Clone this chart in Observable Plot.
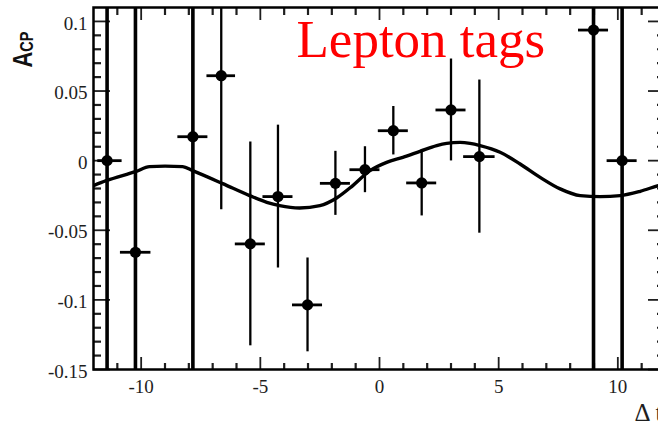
<!DOCTYPE html>
<html>
<head>
<meta charset="utf-8">
<script src="https://cdn.jsdelivr.net/npm/d3@7"></script>
<script src="https://cdn.jsdelivr.net/npm/@observablehq/plot@0.6"></script>
<style>
  html, body { margin: 0; padding: 0; background: #fff; overflow: hidden; }
  #chart { width: 680px; }
</style>
</head>
<body>
<div id="chart"></div>
<script>
// Time-dependent CP asymmetry for lepton-tagged events, binned in Δt
const dtValues   = [-11.43, -10.24, -7.83, -6.64, -5.42, -4.26, -3.02, -1.85, -0.61, 0.58, 1.77, 3.00, 4.19, 8.98, 10.18];
const acpValues  = [0.000, -0.0658, 0.0172, 0.0610, -0.0598, -0.0258, -0.1036, -0.0163, -0.0065, 0.0215, -0.0160, 0.0364, 0.0029, 0.0938, 0.000];
const acpErrors  = [0.50, 0.50, 0.50, 0.0962, 0.0732, 0.0513, 0.0337, 0.0230, 0.0165, 0.0174, 0.0237, 0.0366, 0.0550, 0.50, 0.50];
const dtErrLow   = [0.39, 0.63, 0.63, 0.60, 0.63, 0.63, 0.63, 0.63, 0.63, 0.63, 0.63, 0.63, 0.66, 0.63, 0.63];
const dtErrHigh  = [0.63, 0.65, 0.63, 0.60, 0.63, 0.63, 0.63, 0.63, 0.63, 0.63, 0.63, 0.63, 0.66, 0.63, 0.63];

// Fitted asymmetry curve
const curveDt  = [-12.0, -11.47, -10.21, -9.65, -9.0, -8.26, -7.84, -6.58, -5.45, -4.73, -4.19, -3.35, -2.50, -1.80, -1.12, -0.40, 0.30, 0.98, 1.70, 2.40, 2.82, 3.38, 3.80, 4.22, 5.06, 5.90, 6.74, 7.58, 8.42, 9.26, 10.10, 10.94, 11.70, 12.0];
const curveAcp = [-0.0179, -0.0144, -0.0077, -0.0043, -0.0039, -0.0043, -0.0072, -0.0165, -0.0251, -0.0299, -0.0323, -0.0340, -0.0323, -0.0268, -0.0179, -0.0072, -0.0012, 0.0024, 0.0067, 0.0108, 0.0124, 0.0131, 0.0124, 0.0108, 0.0060, -0.0024, -0.0120, -0.0203, -0.0251, -0.0258, -0.0251, -0.0220, -0.0179, -0.0165];

// Axis ticks and labels
const xTickValues = [-10, -5, 0, 5, 10];
const xTickLabels = ["-10", "-5", "0", "5", "10"];
const yTickValues = [-0.15, -0.1, -0.05, 0, 0.05, 0.1];
const yTickLabels = ["-0.15", "-0.1", "-0.05", "0", "0.05", "0.1"];

const xDomain = [-12, 12];
const yDomain = [-0.15, 0.11];

const width = 680, height = 423;
const margin = {top: 7, right: 15, bottom: 54, left: 93};
const innerW = width - margin.left - margin.right;
const innerH = height - margin.top - margin.bottom;

const points = dtValues.map((x, i) => ({
  x, y: acpValues[i],
  y1: acpValues[i] - acpErrors[i], y2: acpValues[i] + acpErrors[i],
  x1: x - dtErrLow[i], x2: x + dtErrHigh[i],
  offscale: acpValues[i] - acpErrors[i] < yDomain[0] && acpValues[i] + acpErrors[i] > yDomain[1]
}));
const curve = curveDt.map((x, i) => ({x, y: curveAcp[i]}));

const xMinor = d3.range(-11, 12).filter(v => v % 5 !== 0);
const yMinor = d3.range(-14, 11).filter(k => k % 5 !== 0).map(k => k / 100);
const xLabel = new Map(xTickValues.map((v, i) => [v, xTickLabels[i]]));
const yLabel = new Map(yTickValues.map((v, i) => [v, yTickLabels[i]]));

const serif = "Liberation Serif, Times New Roman, serif";

const plot = Plot.plot({
  width, height,
  marginTop: margin.top, marginRight: margin.right,
  marginBottom: margin.bottom, marginLeft: margin.left,
  style: {maxWidth: "none", fontFamily: serif, fontSize: "19px", color: "#1e1e1e", background: "#fff"},
  x: {domain: xDomain, label: null},
  y: {domain: yDomain, label: null},
  marks: [
    // tick labels
    Plot.axisX(xTickValues, {anchor: "bottom", tickSize: 0, tickPadding: 10, label: null, tickFormat: d => xLabel.get(d)}),
    Plot.axisY(yTickValues, {anchor: "left", tickSize: 0, tickPadding: 6, dy: 2, label: null, tickFormat: d => yLabel.get(d)}),
    // inward tick marks on all four sides
    Plot.tickX(xTickValues, {x: d => d, insetTop: innerH - 12, strokeWidth: 1.8}),
    Plot.tickX(xMinor, {x: d => d, insetTop: innerH - 6, strokeWidth: 2.2}),
    Plot.tickX(xTickValues, {x: d => d, insetBottom: innerH - 13, strokeWidth: 1.8}),
    Plot.tickX(xMinor, {x: d => d, insetBottom: innerH - 8, strokeWidth: 2.2}),
    Plot.tickY(yTickValues, {y: d => d, insetRight: innerW - 17, strokeWidth: 1.8}),
    Plot.tickY(yMinor, {y: d => d, insetRight: innerW - 8, strokeWidth: 2.2}),
    Plot.tickY(yTickValues, {y: d => d, insetLeft: innerW - 17, strokeWidth: 1.8}),
    Plot.tickY(yMinor, {y: d => d, insetLeft: innerW - 8, strokeWidth: 2.2}),
    // fit curve
    Plot.line(curve, {x: "x", y: "y", curve: "monotone-x", stroke: "#000", strokeWidth: 3.4, clip: true}),
    // error bars and data points
    Plot.ruleX(points, {x: "x", y1: "y1", y2: "y2", stroke: "#000", strokeWidth: d => d.offscale ? 3.6 : 2.3, clip: true}),
    Plot.ruleY(points, {y: "y", x1: "x1", x2: "x2", stroke: "#000", strokeWidth: 2.8, clip: true}),
    Plot.dot(points, {x: "x", y: "y", r: 5.6, fill: "#000", stroke: null}),
    // annotation and axis title
    Plot.text(["Lepton tags"], {text: d => d, frameAnchor: "top-left", dx: 203, dy: 49, textAnchor: "start", lineAnchor: "bottom", fill: "#ff0000", fontSize: 53, fontFamily: serif}),
    Plot.text(["Δ t"], {text: d => d, frameAnchor: "bottom-left", dx: 541, dy: 51, textAnchor: "start", lineAnchor: "bottom", fill: "#1e1e1e", fontSize: 25, fontFamily: serif}),
    Plot.frame({stroke: "#000", strokeWidth: 2.5})
  ]
});

// y-axis title with subscript
const svg = d3.select(plot);
const title = svg.append("g")
  .attr("transform", "translate(31.5,49.5) rotate(-90) scale(1,1.25)")
  .append("text")
  .attr("font-family", "Liberation Sans, Arial, sans-serif")
  .attr("font-weight", "bold")
  .attr("fill", "#111");
title.append("tspan").attr("font-size", 22).text("A");
title.append("tspan").attr("font-size", 14.5).attr("dy", 1).text("CP");

document.getElementById("chart").append(plot);
</script>
</body>
</html>
